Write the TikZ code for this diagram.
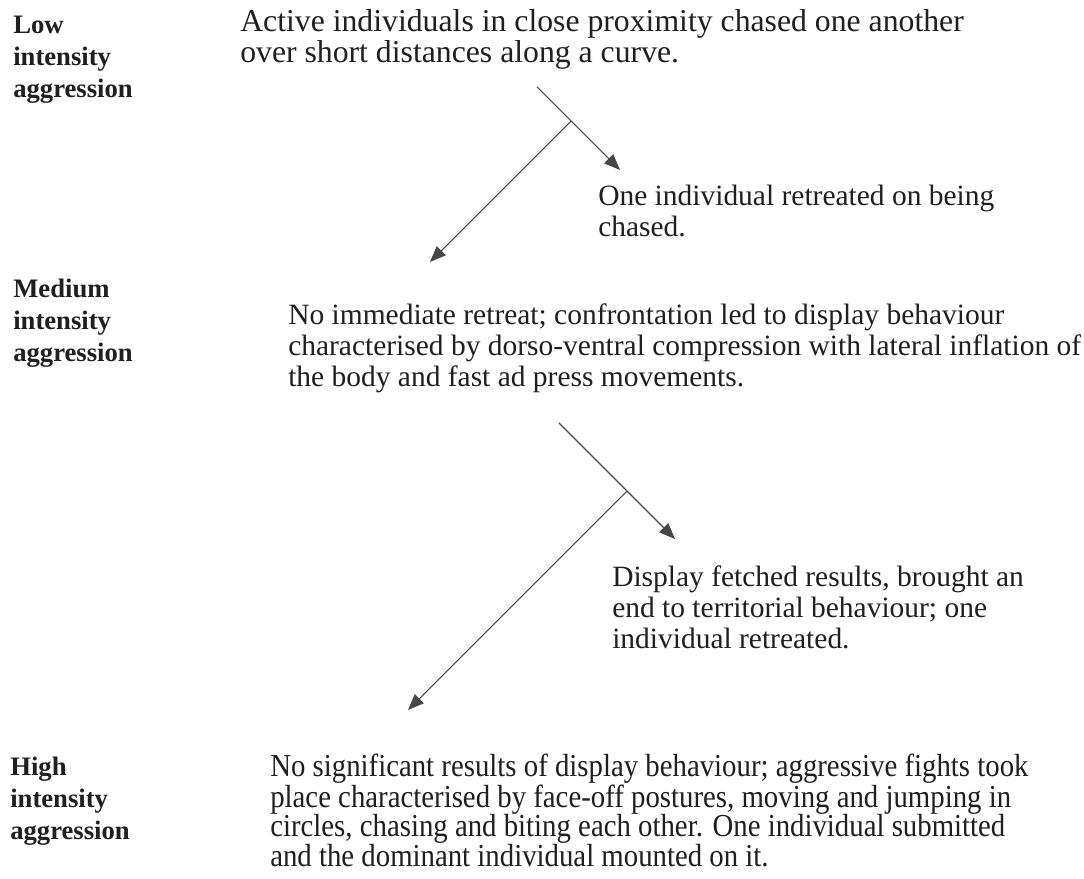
\documentclass[tikz,border=0pt]{standalone}
\usepackage{fontspec}
\setmainfont{Liberation Serif}
\newfontfamily\condfont[FakeStretch=0.9]{Liberation Serif}
\usetikzlibrary{arrows.meta}
\begin{document}
\begin{tikzpicture}[x=0.75pt,y=-0.75pt,
  lbl/.style={anchor=base west, inner sep=0pt, align=left, font=\fontsize{20}{24}\selectfont\bfseries, text=black!88},
  txt/.style={anchor=base west, inner sep=0pt, align=left, font=\fontsize{22.1}{23}\selectfont, text=black!88},
  cond/.style={anchor=base west, inner sep=0pt, align=left, font=\condfont\fontsize{24}{22}\selectfont, text=black!88},
  ln/.style={draw=black!72, line width=0.8pt},
  arr/.style={ln, -{Triangle[length=12pt,width=9.5pt]}}]
\useasboundingbox[fill=white] (0,0) rectangle (1084,878);

\node[lbl] (lowlbl) at (13,97) {Low\\intensity\\aggression};
\node[txt, font=\fontsize{23.8}{22.8}\selectfont] (lowtxt) at (240,62) {Active individuals in close proximity chased one another\\over short distances along a curve.};
\node[txt] (chase) at (598,236) {One individual retreated on being\\chased.};

\node[lbl] (medlbl) at (13,361) {Medium\\intensity\\aggression};
\node[txt] (medtxt) at (288,386) {No immediate retreat; confrontation led to display behaviour\\characterised by dorso-ventral compression with lateral inflation of\\the body and fast ad press movements.};
\node[txt] (disp) at (612,648) {Display fetched results, brought an\\end to territorial behaviour; one\\individual retreated.};

\node[lbl] (highlbl) at (10,839) {High\\intensity\\aggression};
\node[cond] (hightxt) at (270,866) {No significant results of display behaviour; aggressive fights took\\place characterised by face-off postures, moving and jumping in\\circles, chasing and biting each other. One individual submitted\\and the dominant individual mounted on it.};

\coordinate (s1) at (537,87);
\coordinate (j1) at (571,121);
\coordinate (r1) at (620,170);
\coordinate (l1) at (430,262);
\draw[arr] (s1) -- (r1);
\draw[arr] (j1) -- (l1);

\coordinate (s2) at (559,423);
\coordinate (j2) at (627,491);
\coordinate (r2) at (675,539);
\coordinate (l2) at (408,710);
\draw[arr] (s2) -- (r2);
\draw[arr] (j2) -- (l2);
\end{tikzpicture}
\end{document}
